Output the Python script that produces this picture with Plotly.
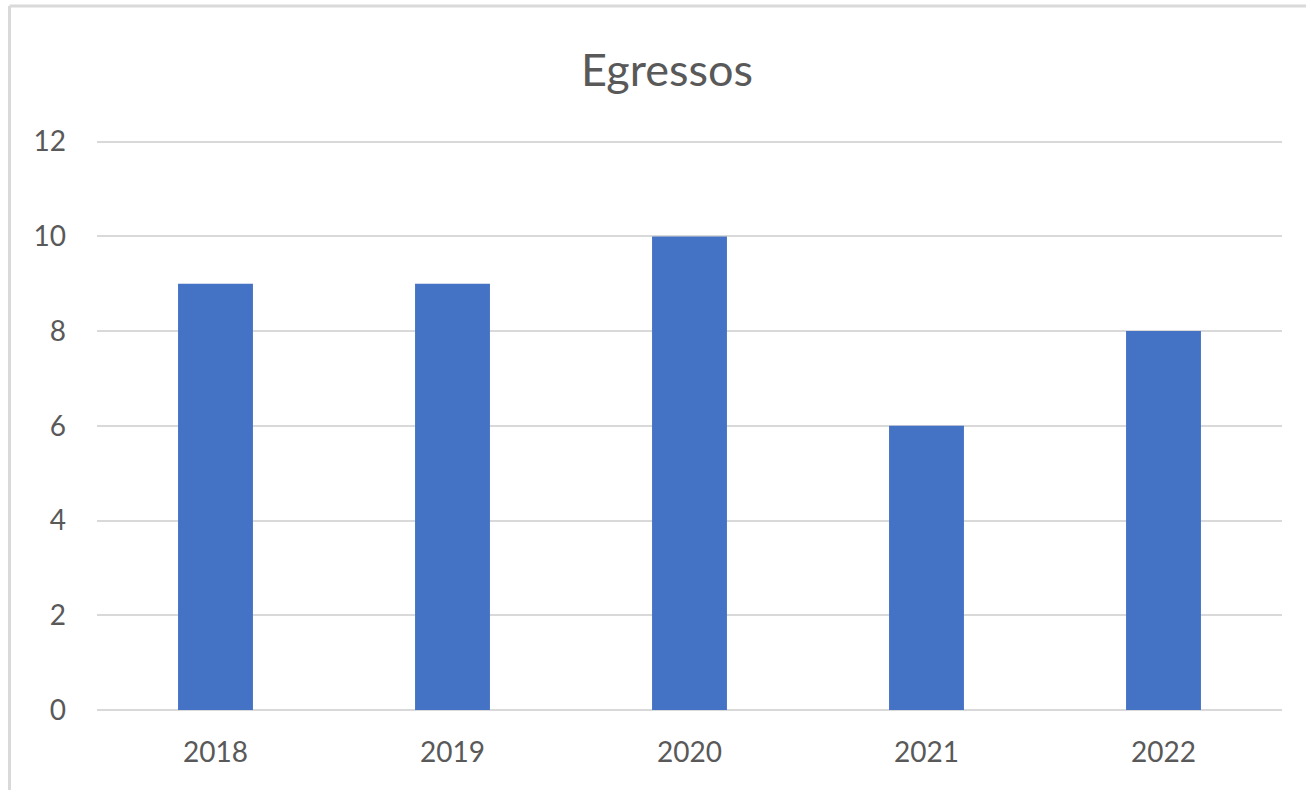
import plotly.graph_objects as go

years = ["2018", "2019", "2020", "2021", "2022"]
egressos = [9, 9, 10, 6, 8]
y_ticks = [0, 2, 4, 6, 8, 10, 12]
y_max = 12.5

W, H = 1306, 790
Y0_PX, Y12_PX = 710, 142
ph = (Y0_PX - Y12_PX) * y_max / 12
ML, MR = 97, 24
MB = H - Y0_PX
MT = H - MB - ph
pw = W - ML - MR

fig = go.Figure(go.Bar(x=years, y=egressos, marker=dict(color="#4472C4", line=dict(width=0))))

fig.update_layout(
    width=W, height=H,
    margin=dict(l=ML, r=MR, t=MT, b=MB, pad=0),
    paper_bgcolor="white", plot_bgcolor="white",
    bargap=0.684,
    title=dict(text="Egressos", x=(667 - ML) / pw, xref="paper", xanchor="center",
               y=1 - 70 / H, yanchor="middle",
               font=dict(family="Lato", size=45, color="#595959")),
    font=dict(family="Lato", size=28, color="#595959"),
    showlegend=False,
    xaxis=dict(showgrid=False, showline=False, ticks="", tickfont=dict(size=28, color="#595959"),
               ticklabelstandoff=23),
    yaxis=dict(range=[0, y_max], tickvals=y_ticks, showgrid=True, gridcolor="#D9D9D9", gridwidth=2,
               zeroline=True, zerolinecolor="#D9D9D9", zerolinewidth=2, showline=False,
               ticks="", tickfont=dict(size=28, color="#595959"), ticklabelstandoff=30),
    shapes=[
        dict(type="line", xref="paper", yref="paper",
             x0=(9.5 - ML) / pw, x1=(W + 5 - ML) / pw,
             y0=(H - MB - 6.5) / ph, y1=(H - MB - 6.5) / ph,
             line=dict(color="#D9D9D9", width=3)),
        dict(type="line", xref="paper", yref="paper",
             x0=(9.5 - ML) / pw, x1=(9.5 - ML) / pw,
             y0=(H - MB - 6.5) / ph, y1=-(MB + 5) / ph,
             line=dict(color="#D9D9D9", width=3)),
    ],
)

fig.write_html("out.html", config={"displayModeBar": False},
               post_script="document.body.style.margin='0';")
